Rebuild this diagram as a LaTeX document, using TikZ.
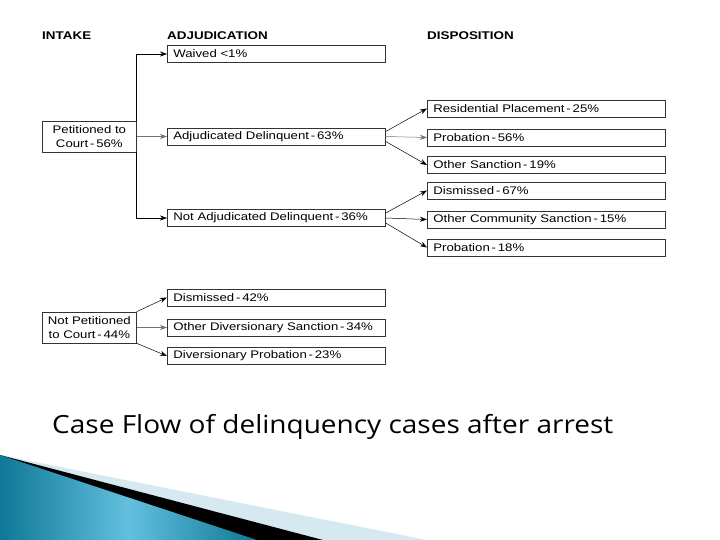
\documentclass[tikz,border=0pt]{standalone}
\usepackage{fontspec}
\newfontfamily\chartfont[FakeStretch=1.2]{Liberation Sans}
\newfontfamily\slidefont[FakeStretch=1.12]{Open Sans}
\usetikzlibrary{arrows.meta}
\definecolor{tealDark}{HTML}{0E7896}
\definecolor{tealLight}{HTML}{62C0DE}
\definecolor{paleBlue}{HTML}{D6E9F0}
\begin{document}
\begin{tikzpicture}
[x=1pt,y=-1pt,%
  boxDecorate/.style={draw=black!80,line width=0.7pt,inner ysep=0pt,minimum height=17pt,anchor=west,align=left,font=\chartfont\fontsize{11}{14}\selectfont},%
  adjDecorate/.style={boxDecorate,text width=206pt,inner xsep=6pt},%
  dispDecorate/.style={boxDecorate,text width=226pt,inner xsep=6pt},%
  intakeDecorate/.style={boxDecorate,inner sep=0pt,minimum width=94pt,minimum height=31pt,align=center},%
  headDecorate/.style={anchor=base west,inner sep=0pt,font=\chartfont\bfseries\fontsize{11.2}{14}\selectfont},%
  arrowDecorate/.style={-{Stealth[length=7pt,width=5pt]},line width=0.5pt,black}]
\useasboundingbox (0,0) rectangle (720,540);
%% column heads
\node (intakeHead) [headDecorate] at (42,40) {INTAKE};
\node (adjHead) [headDecorate] at (167,40) {ADJUDICATION};
\node (dispHead) [headDecorate] at (427,40) {DISPOSITION};
%% intake
\node (petitioned) [intakeDecorate] at (42,136.5) {Petitioned to\\Court\,-\,56\%};
\node (notPetitioned) [intakeDecorate] at (42,327.5) {Not Petitioned\\to Court\,-\,44\%};
%% adjudication
\node (waived) [adjDecorate] at (167,54) {Waived <1\%};
\node (adjDel) [adjDecorate] at (167,136.5) {Adjudicated Delinquent\,-\,63\%};
\node (notAdj) [adjDecorate] at (167,218) {Not Adjudicated Delinquent\,-\,36\%};
\node (dismissedDiv) [adjDecorate] at (167,297.5) {Dismissed\,-\,42\%};
\node (otherDiv) [adjDecorate] at (167,327.5) {Other Diversionary Sanction\,-\,34\%};
\node (probDiv) [adjDecorate] at (167,356) {Diversionary Probation\,-\,23\%};
%% disposition
\node (resid) [dispDecorate] at (427,108.5) {Residential Placement\,-\,25\%};
\node (probAdj) [dispDecorate] at (427,137.5) {Probation\,-\,56\%};
\node (otherAdj) [dispDecorate] at (427,165) {Other Sanction\,-\,19\%};
\node (dismissedNot) [dispDecorate] at (427,190.5) {Dismissed\,-\,67\%};
\node (communityNot) [dispDecorate] at (427,219.5) {Other Community Sanction\,-\,15\%};
\node (probNot) [dispDecorate] at (427,247.5) {Probation\,-\,18\%};
%% connectors
\draw [arrowDecorate] (petitioned.north east) |- (waived.west);
\draw [arrowDecorate] (petitioned.south east) |- (notAdj.west);
\draw [arrowDecorate,black!55] (petitioned.east) -- (adjDel.west);
\draw [arrowDecorate] ([yshift=5pt]adjDel.east) -- (resid.west);
\draw [arrowDecorate,black!55] (adjDel.east) -- (probAdj.west);
\draw [arrowDecorate] ([yshift=-5pt]adjDel.east) -- (otherAdj.west);
\draw [arrowDecorate] ([yshift=5pt]notAdj.east) -- (dismissedNot.west);
\draw [arrowDecorate] (notAdj.east) -- (communityNot.west);
\draw [arrowDecorate] ([yshift=-5pt]notAdj.east) -- (probNot.west);
\draw [arrowDecorate] (notPetitioned.north east) -- (dismissedDiv.west);
\draw [arrowDecorate,black!55] (notPetitioned.east) -- (otherDiv.west);
\draw [arrowDecorate] (notPetitioned.south east) -- (probDiv.west);
%% caption
\node (caption) [anchor=base west,inner sep=0pt,font=\slidefont\fontsize{25}{30}\selectfont] at (52,433) {Case Flow of delinquency cases after arrest};
%% corner bands
\fill [paleBlue] (0,455) -- (427,540) -- (0,540) -- cycle;
\fill [black] (0,455) -- (323,540) -- (0,540) -- cycle;
\shade [left color=tealDark,right color=tealDark,middle color=tealLight] (0,455) -- (257,540) -- (0,540) -- cycle;
\end{tikzpicture}
\end{document}
